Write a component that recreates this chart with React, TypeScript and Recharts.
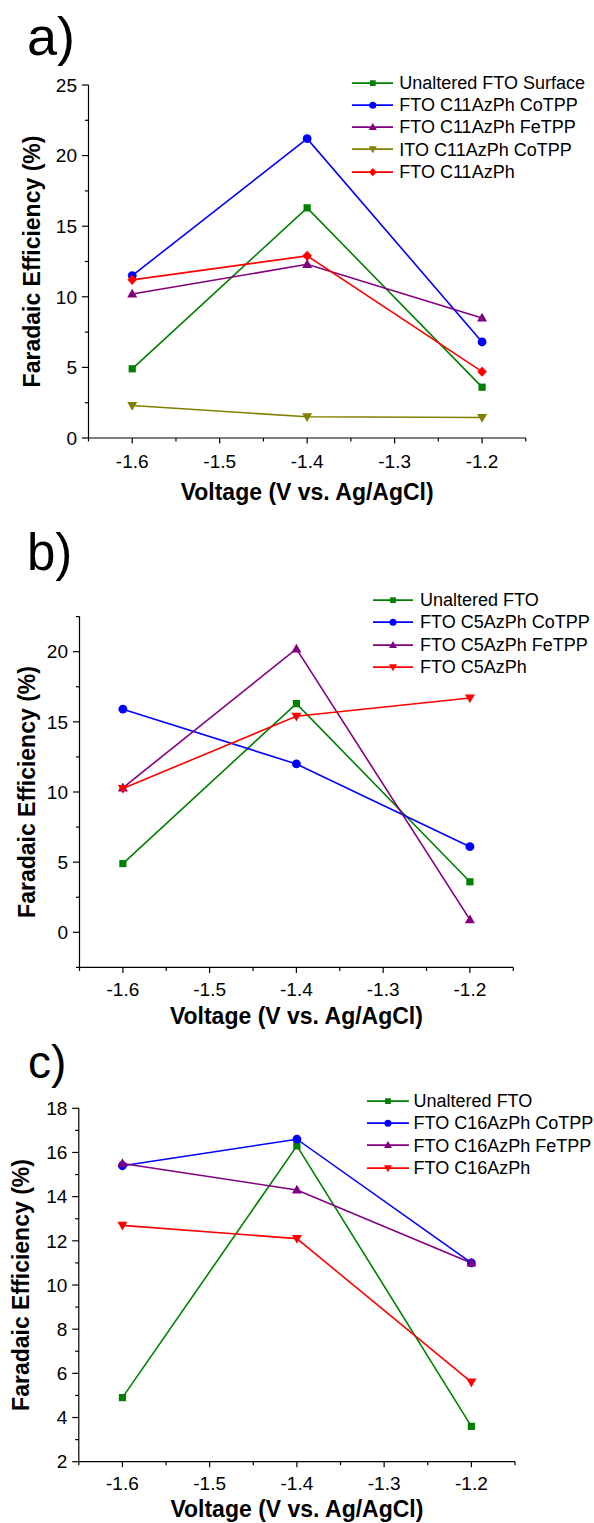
import React from 'react';
import { LineChart, Line, XAxis, YAxis, Legend } from 'recharts';

const FONT = '"Liberation Sans", Arial, Helvetica, sans-serif';

// ---- data ----
const voltages = [-1.6, -1.4, -1.2];

const aUnaltered = [4.9, 16.3, 3.6];
const aFtoC11CoTPP = [11.5, 21.2, 6.8];
const aFtoC11FeTPP = [10.2, 12.3, 8.5];
const aItoC11CoTPP = [2.3, 1.5, 1.45];
const aFtoC11 = [11.2, 12.9, 4.7];

const bUnaltered = [4.9, 16.3, 3.6];
const bFtoC5CoTPP = [15.9, 12.0, 6.1];
const bFtoC5FeTPP = [10.3, 20.2, 0.9];
const bFtoC5 = [10.25, 15.4, 16.7];

const cUnaltered = [4.9, 16.3, 3.6];
const cFtoC16CoTPP = [15.4, 16.6, 11.0];
const cFtoC16FeTPP = [15.5, 14.3, 11.0];
const cFtoC16 = [12.7, 12.1, 5.6];

// ---- ticks ----
const xTicks = [-1.65, -1.6, -1.55, -1.5, -1.45, -1.4, -1.35, -1.3, -1.25, -1.2, -1.15];
const xLabelTicks = [-1.6, -1.5, -1.4, -1.3, -1.2];
const aYTicks = [0, 2.5, 5, 7.5, 10, 12.5, 15, 17.5, 20, 22.5, 25];
const aYLabels = [0, 5, 10, 15, 20, 25];
const bYTicks = [-2.5, 0, 2.5, 5, 7.5, 10, 12.5, 15, 17.5, 20, 22.5];
const bYLabels = [0, 5, 10, 15, 20];
const cYTicks = [2, 3, 4, 5, 6, 7, 8, 9, 10, 11, 12, 13, 14, 15, 16, 17, 18];
const cYLabels = [2, 4, 6, 8, 10, 12, 14, 16, 18];

const GREEN = '#008000';
const BLUE = '#0000FF';
const PURPLE = '#800080';
const OLIVE = '#808000';
const RED = '#FF0000';

type Shape = 'square' | 'circle' | 'up' | 'down' | 'diamond';
type SeriesDef = { key: string; name: string; color: string; shape: Shape; values: number[] };

const seriesA: SeriesDef[] = [
  { key: 's1', name: 'Unaltered FTO Surface', color: GREEN, shape: 'square', values: aUnaltered },
  { key: 's2', name: 'FTO C11AzPh CoTPP', color: BLUE, shape: 'circle', values: aFtoC11CoTPP },
  { key: 's3', name: 'FTO C11AzPh FeTPP', color: PURPLE, shape: 'up', values: aFtoC11FeTPP },
  { key: 's4', name: 'ITO C11AzPh CoTPP', color: OLIVE, shape: 'down', values: aItoC11CoTPP },
  { key: 's5', name: 'FTO C11AzPh', color: RED, shape: 'diamond', values: aFtoC11 },
];
const seriesB: SeriesDef[] = [
  { key: 's1', name: 'Unaltered FTO', color: GREEN, shape: 'square', values: bUnaltered },
  { key: 's2', name: 'FTO C5AzPh CoTPP', color: BLUE, shape: 'circle', values: bFtoC5CoTPP },
  { key: 's3', name: 'FTO C5AzPh FeTPP', color: PURPLE, shape: 'up', values: bFtoC5FeTPP },
  { key: 's4', name: 'FTO C5AzPh', color: RED, shape: 'down', values: bFtoC5 },
];
const seriesC: SeriesDef[] = [
  { key: 's1', name: 'Unaltered FTO', color: GREEN, shape: 'square', values: cUnaltered },
  { key: 's2', name: 'FTO C16AzPh CoTPP', color: BLUE, shape: 'circle', values: cFtoC16CoTPP },
  { key: 's3', name: 'FTO C16AzPh FeTPP', color: PURPLE, shape: 'up', values: cFtoC16FeTPP },
  { key: 's4', name: 'FTO C16AzPh', color: RED, shape: 'down', values: cFtoC16 },
];

const buildData = (series: SeriesDef[]) =>
  voltages.map((v, i) => {
    const row: Record<string, number> = { v };
    series.forEach((s) => {
      row[s.key] = s.values[i];
    });
    return row;
  });

function Marker({ shape, cx, cy, color, s = 1 }: { shape: Shape; cx: number; cy: number; color: string; s?: number }) {
  if (cx == null || cy == null || isNaN(cx) || isNaN(cy)) return <g />;
  switch (shape) {
    case 'square': {
      const h = 3.6 * s;
      return <rect x={cx - h} y={cy - h} width={2 * h} height={2 * h} fill={color} />;
    }
    case 'circle':
      return <circle cx={cx} cy={cy} r={4.4 * s} fill={color} />;
    case 'up': {
      const w = 5 * s;
      return <path d={`M${cx},${cy - 5.2 * s} L${cx + w},${cy + 3.6 * s} L${cx - w},${cy + 3.6 * s} Z`} fill={color} />;
    }
    case 'down': {
      const w = 5 * s;
      return <path d={`M${cx},${cy + 5.2 * s} L${cx + w},${cy - 3.6 * s} L${cx - w},${cy - 3.6 * s} Z`} fill={color} />;
    }
    case 'diamond':
    default: {
      const w = 4.8 * s;
      const h = 5.2 * s;
      return <path d={`M${cx},${cy - h} L${cx + w},${cy} L${cx},${cy + h} L${cx - w},${cy} Z`} fill={color} />;
    }
  }
}

const isIn = (list: number[], v: number) => list.some((l) => Math.abs(l - v) < 1e-6);

const makeXTick = (labels: number[], labelDy: number) => (props: any) => {
  const { x, y, payload } = props;
  const v = payload.value as number;
  const major = isIn(labels, v);
  return (
    <g>
      <line x1={x} x2={x} y1={y} y2={y + (major ? 5.5 : 3.5)} stroke="#000" strokeWidth={1.2} />
      {major && (
        <text x={x} y={y + labelDy} textAnchor="middle" fontFamily={FONT} fontSize={19} fill="#000">
          {v.toFixed(1)}
        </text>
      )}
    </g>
  );
};

const makeYTick = (labels: number[]) => (props: any) => {
  const { x, y, payload } = props;
  const v = payload.value as number;
  const major = isIn(labels, v);
  return (
    <g>
      <line x1={x - (major ? 6.6 : 3.6)} x2={x} y1={y} y2={y} stroke="#000" strokeWidth={1.2} />
      {major && (
        <text x={x - 11.5} y={y} dy="0.355em" textAnchor="end" fontFamily={FONT} fontSize={19} fill="#000">
          {String(v)}
        </text>
      )}
    </g>
  );
};

const makeXTitle = (baselineOffset: number) => (props: any) => {
  const vb = props.viewBox || {};
  return (
    <text
      x={vb.x + vb.width / 2}
      y={vb.y + baselineOffset}
      textAnchor="middle"
      fontFamily={FONT}
      fontSize={23}
      fontWeight="bold"
      fill="#000"
    >
      Voltage (V vs. Ag/AgCl)
    </text>
  );
};

const makeYTitle = (dist: number) => (props: any) => {
  const vb = props.viewBox || {};
  const cx = vb.x + vb.width - dist;
  const cy = vb.y + vb.height / 2;
  return (
    <text
      x={cx}
      y={cy}
      dy="0.355em"
      transform={`rotate(-90 ${cx} ${cy})`}
      textAnchor="middle"
      fontFamily={FONT}
      fontSize={23}
      fontWeight="bold"
      fill="#000"
    >
      Faradaic Efficiency (%)
    </text>
  );
};

const makeLegend = (series: SeriesDef[], lineW: number, gap: number, rowH: number) => () => (
  <div style={{ fontFamily: FONT, fontSize: 18, color: '#000' }}>
    {series.map((s) => (
      <div key={s.key} style={{ display: 'flex', alignItems: 'center', height: rowH, whiteSpace: 'nowrap' }}>
        <svg width={lineW} height={rowH} style={{ display: 'block', flex: 'none' }}>
          <line x1={0} x2={lineW} y1={rowH / 2} y2={rowH / 2} stroke={s.color} strokeWidth={1.8} />
          <Marker shape={s.shape} cx={lineW / 2} cy={rowH / 2} color={s.color} s={0.8} />
        </svg>
        <span style={{ marginLeft: gap, lineHeight: 1 }}>{s.name}</span>
      </div>
    ))}
  </div>
);

type PanelProps = {
  top: number;
  height: number;
  marginTop: number;
  marginRight: number;
  yAxisWidth: number;
  xAxisHeight: number;
  yDomain: [number, number];
  yTicks: number[];
  yLabels: number[];
  series: SeriesDef[];
  legendLeft: number;
  legendTop: number;
  legendLineW: number;
  legendGap: number;
  legendRowH: number;
  xTitleOffset: number;
  yTitleDist: number;
  tickLabelDy: number;
};

function Panel(p: PanelProps) {
  const data = buildData(p.series);
  return (
    <div style={{ position: 'absolute', left: 0, top: p.top, width: 594, height: p.height }}>
      <LineChart
        width={594}
        height={p.height}
        data={data}
        margin={{ top: p.marginTop, right: p.marginRight, bottom: 0, left: 0 }}
      >
        <XAxis
          dataKey="v"
          type="number"
          domain={[-1.65, -1.15]}
          ticks={xTicks}
          interval={0}
          tickSize={0}
          tickMargin={0}
          tickLine={false}
          axisLine={{ stroke: '#000', strokeWidth: 1.2 }}
          tick={makeXTick(xLabelTicks, p.tickLabelDy)}
          height={p.xAxisHeight}
          label={makeXTitle(p.xTitleOffset)}
        />
        <YAxis
          type="number"
          domain={p.yDomain}
          ticks={p.yTicks}
          interval={0}
          tickSize={0}
          tickMargin={0}
          tickLine={false}
          axisLine={{ stroke: '#000', strokeWidth: 1.2 }}
          tick={makeYTick(p.yLabels)}
          width={p.yAxisWidth}
          label={makeYTitle(p.yTitleDist)}
        />
        <Legend
          layout="vertical"
          align="center"
          verticalAlign="middle"
          wrapperStyle={{ left: p.legendLeft, top: p.legendTop, width: 'auto' }}
          content={makeLegend(p.series, p.legendLineW, p.legendGap, p.legendRowH)}
        />
        {p.series.map((s) => (
          <Line
            key={s.key}
            type="linear"
            dataKey={s.key}
            name={s.name}
            stroke={s.color}
            strokeWidth={1.6}
            dot={(dp: any) => (
              <Marker key={`${s.key}-${dp.index}`} shape={s.shape} cx={dp.cx} cy={dp.cy} color={s.color} />
            )}
            activeDot={false}
            isAnimationActive={false}
          />
        ))}
      </LineChart>
    </div>
  );
}

export default function App() {
  return (
    <div
      style={{
        position: 'absolute',
        left: 0,
        top: 0,
        width: 594,
        height: 1523,
        overflow: 'hidden',
        background: '#fff',
      }}
    >
      <svg style={{ position: 'absolute', left: 0, top: 0 }} width={594} height={1523}>
        <text x={27} y={55} fontFamily={FONT} fontSize={54} fill="#000">a)</text>
        <text x={27} y={570} fontFamily={FONT} fontSize={51} fill="#000">b)</text>
        <text x={28} y={1078} fontFamily={FONT} fontSize={46} fill="#000">c)</text>
      </svg>
      <Panel
        top={0}
        height={520}
        marginTop={85}
        marginRight={68.2}
        yAxisWidth={88.5}
        xAxisHeight={82}
        yDomain={[0, 25]}
        yTicks={aYTicks}
        yLabels={aYLabels}
        series={seriesA}
        legendLeft={351.7}
        legendTop={71.5}
        legendLineW={41.6}
        legendGap={6}
        legendRowH={22.3}
        xTitleOffset={62}
        yTitleDist={56.3}
        tickLabelDy={30}
      />
      <Panel
        top={520}
        height={520}
        marginTop={96.6}
        marginRight={80.7}
        yAxisWidth={79.5}
        xAxisHeight={72.6}
        yDomain={[-2.5, 22.5]}
        yTicks={bYTicks}
        yLabels={bYLabels}
        series={seriesB}
        legendLeft={373.3}
        legendTop={68.8}
        legendLineW={40}
        legendGap={6.7}
        legendRowH={22.4}
        xTitleOffset={57}
        yTitleDist={53}
        tickLabelDy={29}
      />
      <Panel
        top={1020}
        height={503}
        marginTop={88.3}
        marginRight={79}
        yAxisWidth={78.8}
        xAxisHeight={61.3}
        yDomain={[2, 18]}
        yTicks={cYTicks}
        yLabels={cYLabels}
        series={seriesC}
        legendLeft={367.4}
        legendTop={69.8}
        legendLineW={41.9}
        legendGap={4.3}
        legendRowH={22.3}
        xTitleOffset={55.5}
        yTitleDist={58}
        tickLabelDy={28.5}
      />
    </div>
  );
}
